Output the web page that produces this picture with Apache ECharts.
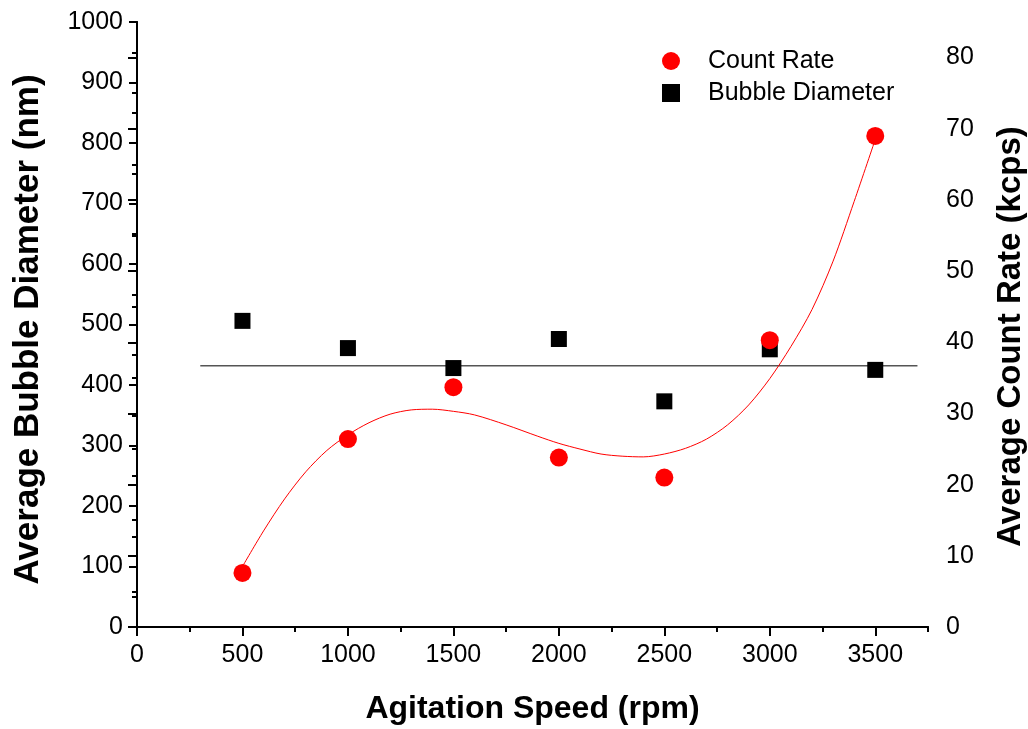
<!DOCTYPE html>
<html>
<head>
<meta charset="utf-8">
<script src="https://cdn.jsdelivr.net/npm/echarts@6/dist/echarts.min.js"></script>
<style>
html,body{margin:0;padding:0;background:#fff;}
#c{width:1028px;height:729px;}
</style>
</head>
<body>
<div id="c"></div>
<script>
// ---- data ----
const speeds = [500, 1000, 1500, 2000, 2500, 3000, 3500];
const bubbleDiameter = [506, 461, 428, 476, 373, 459, 425];
const countRate = [7.6, 26.4, 33.7, 23.8, 21.0, 40.3, 69.0];

// fitted curve (count rate)
const fitSpeeds = [500, 600, 700, 800, 900, 1000, 1100, 1200, 1300, 1400, 1500, 1600, 1750, 1900, 2000, 2100, 2200, 2300, 2400, 2500, 2600, 2700, 2800, 2900, 3000, 3100, 3200, 3300, 3400, 3500];
const fitCountRate = [8.5, 13.5, 18.0, 21.8, 24.8, 27.0, 28.7, 29.9, 30.5, 30.6, 30.3, 29.8, 28.4, 26.8, 25.8, 25.0, 24.3, 24.0, 23.9, 24.3, 25.1, 26.4, 28.4, 31.2, 34.9, 39.4, 44.6, 51.4, 59.8, 68.5];

// horizontal mean line of bubble diameter
const meanLineSpeeds = [300, 3700];
const meanLineDiameter = [432, 432];

// tick values
const xMajorTicks = [0, 500, 1000, 1500, 2000, 2500, 3000, 3500];
const xMinorTicks = [250, 750, 1250, 1750, 2250, 2750, 3250, 3750];
const leftMajorTicks = [0, 100, 200, 300, 400, 500, 600, 700, 800, 900, 1000];
const leftMinorTicks = [50, 150, 250, 350, 450, 550, 650, 750, 850, 950];
const rightMajorTicks = [0, 10, 20, 30, 40, 50, 60, 70, 80];
const rightMinorTicks = [5, 15, 25, 35, 45, 55, 65, 75, 85];

const FONT = "'Liberation Sans', Arial, Helvetica, sans-serif";
const axisLineStyle = {show: true, lineStyle: {color: '#000', width: 2}};
const noLine = {show: false};
const plain = v => String(v);

function xAx(pos, ticks, len, inside, withLine, withLabel, extra) {
  return Object.assign({
    type: 'value', position: pos, min: 0, max: 3750,
    axisLine: withLine ? axisLineStyle : noLine,
    splitLine: {show: false},
    axisTick: {show: true, customValues: ticks, length: len, inside: inside, lineStyle: {color: '#000', width: 2}},
    axisLabel: withLabel ? {show: true, customValues: ticks, formatter: plain, fontSize: 25, color: '#000', fontFamily: FONT, margin: 16} : {show: false}
  }, extra || {});
}
function yAx(pos, max, ticks, len, inside, withLine, withLabel, extra) {
  return Object.assign({
    type: 'value', position: pos, min: 0, max: max,
    axisLine: withLine ? axisLineStyle : noLine,
    splitLine: {show: false},
    axisTick: {show: true, customValues: ticks, length: len, inside: inside, lineStyle: {color: '#000', width: 2}},
    axisLabel: withLabel ? {show: true, customValues: ticks, formatter: plain, fontSize: 25, color: '#000', fontFamily: FONT, margin: pos === 'left' ? 14 : 18} : {show: false}
  }, extra || {});
}

const option = {
  animation: false,
  backgroundColor: '#fff',
  grid: {left: 137, right: 100, top: 22, bottom: 102, containLabel: false, outerBoundsMode: 'none'},
  legend: {
    orient: 'vertical', left: 657, top: 42,
    itemWidth: 18, itemHeight: 18, itemGap: 4,
    data: [{name: 'Count Rate', icon: 'circle'}, {name: 'Bubble Diameter', icon: 'rect'}],
    itemStyle: {opacity: 1},
    textStyle: {fontSize: 25, color: '#000', fontFamily: FONT, padding: [0, 0, 0, 23], lineHeight: 28}
  },
  xAxis: [
    xAx('bottom', xMajorTicks, 8, false, true, true, {
      name: 'Agitation Speed (rpm)', nameLocation: 'middle', nameGap: 66,
      nameTextStyle: {fontSize: 32, fontWeight: 'bold', color: '#000', fontFamily: FONT}
    }),
    xAx('bottom', xMinorTicks, 5, false, false, false),
    xAx('top', xMajorTicks, 9, true, true, false),
    xAx('top', xMinorTicks, 5, true, false, false)
  ],
  yAxis: [
    yAx('left', 1000, leftMajorTicks, 8, false, true, true, {
      name: 'Average Bubble Diameter (nm)', nameLocation: 'middle', nameGap: 91,
      nameTextStyle: {fontSize: 35, fontWeight: 'bold', color: '#000', fontFamily: FONT, padding: [0, 10, 0, 0]}
    }),
    yAx('left', 1000, leftMinorTicks, 5, false, false, false),
    yAx('right', 85, rightMajorTicks, 9, true, true, true, {
      name: 'Average Count Rate (kcps)', nameLocation: 'middle', nameGap: 66,
      nameTextStyle: {fontSize: 33, fontWeight: 'bold', color: '#000', fontFamily: FONT, padding: [0, 24, 0, 0]}
    }),
    yAx('right', 85, rightMinorTicks, 5, true, false, false)
  ],
  series: [
    {
      name: 'Mean', type: 'line', xAxisIndex: 0, yAxisIndex: 0, silent: true,
      data: meanLineSpeeds.map((x, i) => [x, meanLineDiameter[i]]),
      symbol: 'none', lineStyle: {color: '#555', width: 1.5}, z: 2
    },
    {
      name: 'Bubble Diameter', type: 'scatter', xAxisIndex: 0, yAxisIndex: 0,
      data: speeds.map((x, i) => [x, bubbleDiameter[i]]),
      symbol: 'rect', symbolSize: 16, itemStyle: {color: '#000', opacity: 1}, z: 3
    },
    {
      name: 'Count Rate', type: 'scatter', xAxisIndex: 0, yAxisIndex: 2,
      data: speeds.map((x, i) => [x, countRate[i]]),
      symbol: 'circle', symbolSize: 18, itemStyle: {color: '#ff0000', opacity: 1}, z: 4
    },
    {
      name: 'Fit', type: 'line', xAxisIndex: 0, yAxisIndex: 2, silent: true,
      data: fitSpeeds.map((x, i) => [x, fitCountRate[i]]),
      symbol: 'none', smooth: 0.3, lineStyle: {color: '#ff0000', width: 1}, z: 5
    }
  ]
};
const chart = echarts.init(document.getElementById('c'));
chart.setOption(option);
</script>
</body>
</html>
